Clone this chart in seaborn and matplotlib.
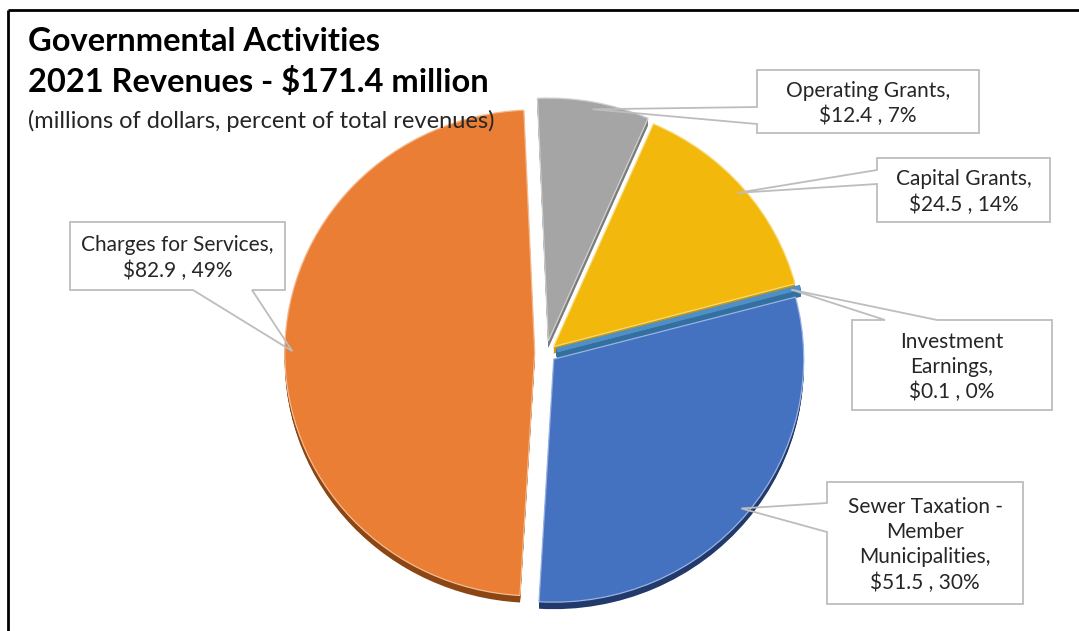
import matplotlib
matplotlib.use("Agg")
import numpy as np
import matplotlib.pyplot as plt
import seaborn as sns
from matplotlib.patches import Polygon, Rectangle
from matplotlib.transforms import Affine2D

# ---- data (millions of dollars), clockwise from 12 o'clock ----
categories = ["Operating Grants", "Capital Grants", "Investment Earnings",
              "Sewer Taxation - Member Municipalities", "Charges for Services"]
amounts = [12.4, 24.5, 0.1, 51.5, 82.9]
percent_labels = ["7%", "14%", "0%", "30%", "49%"]

# how each category name wraps inside its callout
name_lines = {
    "Operating Grants": ["Operating Grants,"],
    "Capital Grants": ["Capital Grants,"],
    "Investment Earnings": ["Investment", "Earnings,"],
    "Sewer Taxation - Member Municipalities": ["Sewer Taxation -", "Member", "Municipalities,"],
    "Charges for Services": ["Charges for Services,"],
}

face_colors = ["#A5A5A5", "#F2B80C", "#4F8FC8", "#4471C0", "#EA7E35"]
side_colors = ["#7C7C7C", "#C99A06", "#33709F", "#22396B", "#8C4614"]
edge_tints = ["#D0D0D0", "#F8DA7A", "#9CC3E6", "#9AB3E0", "#F5BC92"]
explode = [0.05, 0.04, 0.045, 0.04, 0.045]

sns.set_theme(style="white")
plt.rcParams["font.family"] = ["Lato", "DejaVu Sans"]

W, H = 1079, 631
fig = plt.figure(figsize=(W / 100, H / 100), dpi=100)
ax = fig.add_axes([0, 0, 1, 1])

# pie geometry in pixel space (y grows downward)
CX, CY = 546, 353
RX, RY = 250, 243
START = 92.5


def unit_to_px(dy=0.0):
    return Affine2D().scale(RX, -RY).translate(CX, CY + dy) + ax.transData


# extruded side faces: stacked copies shifted downward
for d in range(7, 0, -1):
    side, _ = ax.pie(amounts, colors=side_colors, explode=explode,
                     startangle=START, counterclock=False,
                     wedgeprops=dict(linewidth=0))
    for i, w in enumerate(side):
        w.set_transform(unit_to_px(d))
        w.set_zorder(1)
        if amounts[i] < 1:
            w.set_edgecolor(side_colors[i])
            w.set_linewidth(3)

# top faces
wedges, _ = ax.pie(amounts, colors=face_colors, explode=explode,
                   startangle=START, counterclock=False,
                   wedgeprops=dict(linewidth=0.9))
for i, w in enumerate(wedges):
    w.set_transform(unit_to_px(0))
    w.set_zorder(2)
    w.set_edgecolor(edge_tints[i])
    if amounts[i] < 1:
        w.set_edgecolor(face_colors[i])
        w.set_linewidth(3)

ax.set_xlim(0, W)
ax.set_ylim(H, 0)
ax.set_aspect("auto")
ax.axis("off")


def wedge_tip(w, frac=0.97):
    t = np.deg2rad((w.theta1 + w.theta2) / 2)
    ux = w.center[0] + frac * w.r * np.cos(t)
    uy = w.center[1] + frac * w.r * np.sin(t)
    return CX + RX * ux, CY - RY * uy


# callout boxes: (x0, y0, x1, y1, pointer side, pointer base start, end)
callouts = [
    (757, 70, 979, 133, "left", 107, 124),
    (877, 158, 1050, 222, "left", 170, 184),
    (852, 320, 1052, 410, "top", 885, 937),
    (827, 482, 1023, 604, "left", 503, 532),
    (70, 222, 285, 290, "bottom", 193, 252),
]

for i, (x0, y0, x1, y1, sidep, a, b) in enumerate(callouts):
    tip = wedge_tip(wedges[i])
    if sidep == "left":
        verts = [(x0, y0), (x1, y0), (x1, y1), (x0, y1), (x0, b), tip, (x0, a)]
    elif sidep == "top":
        verts = [(x0, y0), (a, y0), tip, (b, y0), (x1, y0), (x1, y1), (x0, y1)]
    else:
        verts = [(x0, y0), (x1, y0), (x1, y1), (b, y1), tip, (a, y1), (x0, y1)]
    ax.add_patch(Rectangle((x0, y0), x1 - x0, y1 - y0, facecolor="white",
                           edgecolor="none", zorder=4))
    ax.add_patch(Polygon(verts, closed=True, facecolor="none",
                         edgecolor="#BDBDBD", linewidth=1.3, zorder=5,
                         joinstyle="miter"))
    name = categories[i]
    text = "\n".join(name_lines[name] + [f"${amounts[i]:.1f} , {percent_labels[i]}"])
    ax.text((x0 + x1) / 2, (y0 + y1) / 2 + 2, text, ha="center", va="center",
            fontsize=15, linespacing=1.32, color="#262626", zorder=6)

# titles
ax.text(28, 51, "Governmental Activities", fontsize=23.5, fontweight="bold",
        color="black", va="baseline", zorder=6)
ax.text(28, 92, "2021 Revenues - $171.4 million", fontsize=23.5,
        fontweight="bold", color="black", va="baseline", zorder=6)
ax.text(28, 128, "(millions of dollars, percent of total revenues)",
        fontsize=17, color="#262626", va="baseline", zorder=6)

# frame lines along the top and left edges
ax.plot([8, W], [10, 10], color="black", linewidth=2, solid_capstyle="butt", zorder=7)
ax.plot([8, 8], [10, H], color="black", linewidth=2, solid_capstyle="butt", zorder=7)

fig.savefig("out.png", dpi=100)
